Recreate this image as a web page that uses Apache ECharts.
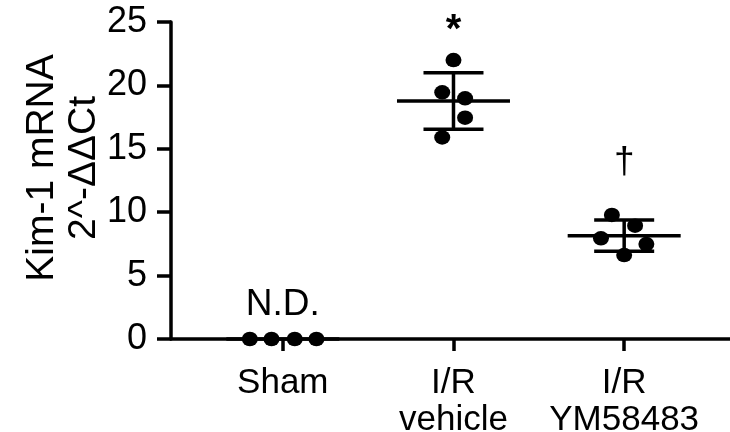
<!DOCTYPE html>
<html><head><meta charset="utf-8">
<script src="https://cdn.jsdelivr.net/npm/echarts@6/dist/echarts.min.js"></script>
<style>html,body{margin:0;padding:0;background:#fff}#c{width:730px;height:432px}</style>
</head><body><div id="c"></div>
<script>
const categories = ['Sham', 'I/R\nvehicle', 'I/R\nYM58483'];
const categoryPos = [1, 2, 3];
const shamValues = [0, 0, 0, 0];
const shamOffsets = [-0.193, -0.066, 0.070, 0.197];
const vehicleValues = [22.0, 19.45, 18.98, 17.45, 15.9];
const vehicleOffsets = [0, -0.066, 0.068, 0.068, -0.066];
const ymValues = [9.78, 8.94, 7.94, 7.49, 6.62];
const ymOffsets = [-0.072, 0.064, -0.136, 0.13, 0];
const groupMeans = [0, 18.77, 8.15];
const groupSDs = [0, 2.23, 1.23];
const yMin = 0, yMax = 25, yStep = 5;
const annotTexts = ['N.D.', '*', '\u2020'];
const annotValues = [2.7, 24.3, 13.9];
const yTitle = 'Kim-1 mRNA\n2^-\u0394\u0394Ct';

const FONT = 'Liberation Sans';
const LW = 3.5;
const groups = [[shamValues, shamOffsets], [vehicleValues, vehicleOffsets], [ymValues, ymOffsets]];
const points = [];
groups.forEach((g, i) => g[0].forEach((v, j) => points.push([categoryPos[i] + g[1][j], v])));
const errData = categoryPos.map((p, i) => [p, groupMeans[i], groupSDs[i]]);
const annotData = categoryPos.map((p, i) => [p, annotValues[i], i]);

const chart = echarts.init(document.getElementById('c'), null, { renderer: 'canvas' });
chart.setOption({
  animation: false,
  backgroundColor: '#fff',
  grid: { left: 171, right: 0, top: 22, bottom: 93, containLabel: false, outerBoundsMode: 'none' },
  xAxis: {
    type: 'value', min: 0.345, max: 3.62,
    splitLine: { show: false },
    axisLine: { show: true, lineStyle: { color: '#000', width: LW } },
    axisTick: { show: true, customValues: categoryPos, length: 12, lineStyle: { color: '#000', width: LW } },
    axisLabel: {
      show: true, customValues: categoryPos, margin: 26,
      formatter: v => categories[categoryPos.indexOf(Math.round(v))] || '',
      color: '#000', fontSize: 35, fontFamily: FONT, lineHeight: 37
    }
  },
  yAxis: {
    type: 'value', min: yMin, max: yMax, interval: yStep,
    splitLine: { show: false },
    axisLine: { show: true, lineStyle: { color: '#000', width: LW } },
    axisTick: { show: true, length: 14, lineStyle: { color: '#000', width: LW } },
    axisLabel: { color: '#000', fontSize: 36, fontFamily: FONT, margin: 24 }
  },
  graphic: [{
    type: 'text', x: 63, y: 168, rotation: Math.PI / 2,
    style: { text: yTitle, font: '39px "Liberation Sans"', fill: '#000', align: 'center', verticalAlign: 'middle', lineHeight: 42 }
  }],
  series: [
    {
      type: 'custom', encode: { x: 0, y: 1 }, data: errData, z: 3,
      renderItem(params, api) {
        const x = api.value(0), m = api.value(1), s = api.value(2);
        const c = api.coord([x, m]);
        const st = { stroke: '#000', lineWidth: LW, fill: null };
        const ch = [{ type: 'line', shape: { x1: c[0] - 56.5, y1: c[1], x2: c[0] + 56.5, y2: c[1] }, style: st }];
        if (s > 0) {
          const t = api.coord([x, m + s]), b = api.coord([x, m - s]);
          ch.push({ type: 'line', shape: { x1: c[0], y1: t[1], x2: c[0], y2: b[1] }, style: st });
          ch.push({ type: 'line', shape: { x1: c[0] - 30, y1: t[1], x2: c[0] + 30, y2: t[1] }, style: st });
          ch.push({ type: 'line', shape: { x1: c[0] - 30, y1: b[1], x2: c[0] + 30, y2: b[1] }, style: st });
        }
        return { type: 'group', children: ch };
      }
    },
    {
      type: 'scatter', data: points, symbol: 'circle', symbolSize: [16, 14.5], z: 4,
      itemStyle: { color: '#000', opacity: 1 }
    },
    {
      type: 'custom', encode: { x: 0, y: 1 }, data: annotData, z: 5,
      renderItem(params, api) {
        const c = api.coord([api.value(0), api.value(1)]);
        const i = api.value(2);
        return {
          type: 'text', x: c[0], y: c[1],
          style: {
            text: annotTexts[i], fill: '#000', align: 'center', verticalAlign: 'middle',
            font: (i === 1 ? 'bold 40px' : '37px') + ' "Liberation Sans"'
          }
        };
      }
    }
  ]
});
</script></body></html>
